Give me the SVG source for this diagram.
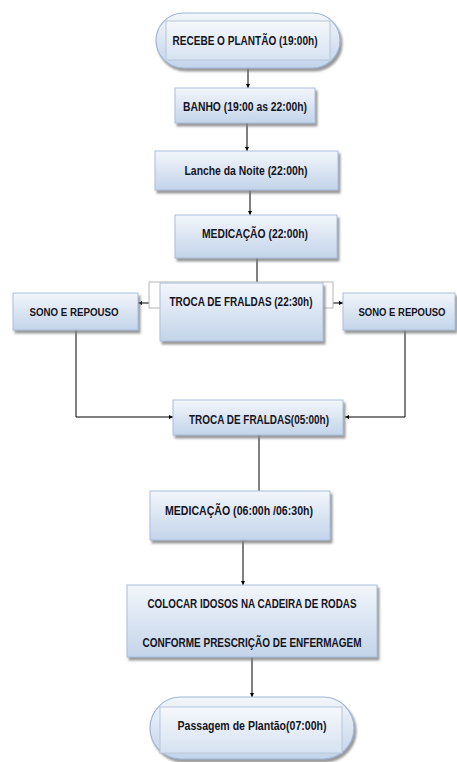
<svg xmlns="http://www.w3.org/2000/svg" width="457" height="762" viewBox="0 0 457 762">
<defs>
<linearGradient id="g" x1="0" y1="0" x2="0" y2="1">
<stop offset="0" stop-color="#f3f6fb"/>
<stop offset="1" stop-color="#c3d4ea"/>
</linearGradient>
<linearGradient id="gi" x1="0" y1="0" x2="0" y2="1">
<stop offset="0" stop-color="#f5f8fc"/>
<stop offset="1" stop-color="#d6e2f1"/>
</linearGradient>
<filter id="sh" x="-10%" y="-10%" width="130%" height="140%">
<feDropShadow dx="2" dy="3" stdDeviation="0.8" flood-color="#7f7f7f" flood-opacity="0.8"/>
</filter>
<marker id="ah" viewBox="0 0 6 6" refX="6" refY="3" markerWidth="4" markerHeight="4" orient="auto">
<path d="M0,0 L6,3 L0,6 z" fill="#000"/>
</marker>
</defs>
<style>
.box{fill:url(#g);stroke:#a9bedb;stroke-width:1;filter:url(#sh)}
.inner{fill:url(#gi);stroke:#b8c6d8;stroke-width:1}
.pill{fill:url(#g);stroke:#9fb7d8;stroke-width:1.2;filter:url(#sh)}
.t{font-family:"Liberation Sans",Arial,sans-serif;font-size:13px;font-weight:bold;fill:#14141f;text-anchor:middle}
.s{font-size:11px}
.c{stroke:#000;stroke-width:1;fill:none}
</style>

<g id="connectors">
<path class="c" d="M248,68 V88" marker-end="url(#ah)"/>
<path class="c" d="M247,123 V151" marker-end="url(#ah)"/>
<path class="c" d="M250,190 V215" marker-end="url(#ah)"/>
<path class="c" d="M257,258 V283"/>
<path class="c" d="M160,303 H138" marker-end="url(#ah)"/>
<path class="c" d="M323,303 H343" marker-end="url(#ah)"/>
<path class="c" d="M76,330 V417 H173" marker-end="url(#ah)"/>
<path class="c" d="M405,330 V417 H345" marker-end="url(#ah)"/>
<path class="c" d="M259,435 V491"/>
<path class="c" d="M243,540 V585" marker-end="url(#ah)"/>
<path class="c" d="M252,657 V697" marker-end="url(#ah)"/>
</g>

<g id="n1">
<rect class="pill" x="156" y="13" width="184" height="55" rx="27.5"/>
<rect class="inner" x="166" y="21" width="164" height="39"/>
<text class="t" x="245" y="45" textLength="145" lengthAdjust="spacingAndGlyphs">RECEBE O PLANTÃO (19:00h)</text>
</g>

<g id="n2">
<rect class="box" x="175" y="88" width="140" height="35"/>
<text class="t" x="245" y="111" textLength="124" lengthAdjust="spacingAndGlyphs">BANHO (19:00 as 22:00h)</text>
</g>

<g id="n3">
<rect class="box" x="155" y="151" width="183" height="39"/>
<text class="t" x="246" y="175" textLength="123" lengthAdjust="spacingAndGlyphs">Lanche da Noite (22:00h)</text>
</g>

<g id="n4">
<rect class="box" x="175" y="215" width="162" height="43"/>
<text class="t" x="255" y="238" textLength="106" lengthAdjust="spacingAndGlyphs">MEDICAÇÃO (22:00h)</text>
</g>

<g id="n5">
<rect x="149" y="282" width="184" height="26" fill="#ffffff" stroke="#b5b5b5" stroke-width="1"/>
<rect class="box" x="160" y="283" width="163" height="58"/>
<text class="t" x="241" y="306" textLength="143" lengthAdjust="spacingAndGlyphs">TROCA DE FRALDAS (22:30h)</text>
</g>

<g id="n6">
<rect class="box" x="13" y="293" width="125" height="37"/>
<text class="t s" x="74" y="316" textLength="89" lengthAdjust="spacingAndGlyphs">SONO E REPOUSO</text>
</g>

<g id="n7">
<rect class="box" x="343" y="293" width="112" height="37"/>
<text class="t s" x="402" y="316" textLength="87" lengthAdjust="spacingAndGlyphs">SONO E REPOUSO</text>
</g>

<g id="n8">
<rect class="box" x="173" y="400" width="170" height="35"/>
<text class="t" x="259" y="424" textLength="140" lengthAdjust="spacingAndGlyphs">TROCA DE FRALDAS(05:00h)</text>
</g>

<g id="n9">
<rect class="box" x="150" y="491" width="180" height="49"/>
<text class="t" x="239" y="515" textLength="148" lengthAdjust="spacingAndGlyphs">MEDICAÇÃO (06:00h /06:30h)</text>
</g>

<g id="n10">
<rect class="box" x="127" y="585" width="250" height="72"/>
<text class="t" x="252" y="608" textLength="209" lengthAdjust="spacingAndGlyphs">COLOCAR IDOSOS NA CADEIRA DE RODAS</text>
<text class="t" x="252" y="647" textLength="219" lengthAdjust="spacingAndGlyphs">CONFORME PRESCRIÇÃO DE ENFERMAGEM</text>
</g>

<g id="n11">
<rect class="pill" x="150" y="697" width="204" height="62" rx="31"/>
<rect class="inner" x="160" y="707" width="182" height="46"/>
<text class="t" x="252" y="730" textLength="149" lengthAdjust="spacingAndGlyphs" font-weight="normal">Passagem de Plantão(07:00h)</text>
</g>
</svg>
